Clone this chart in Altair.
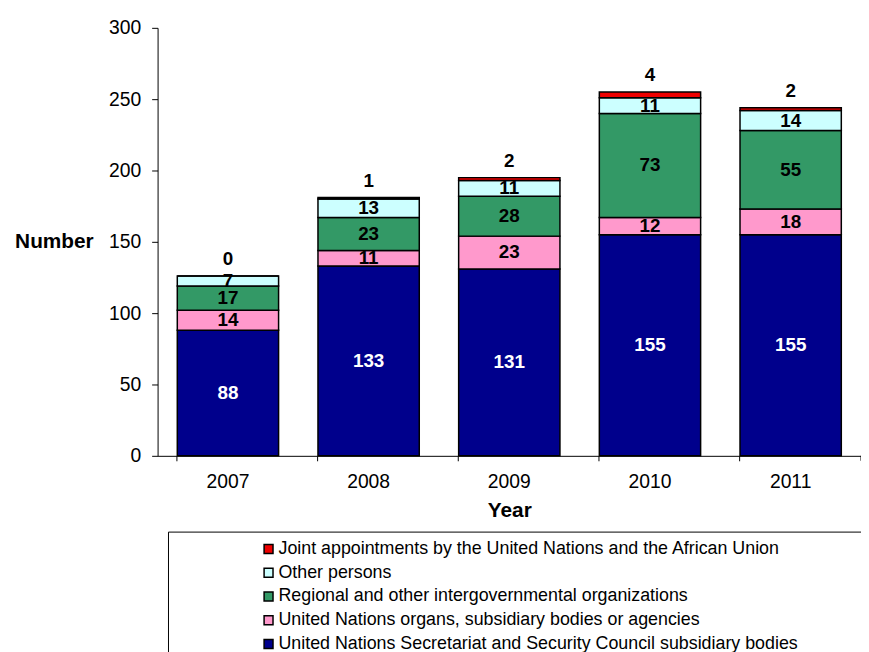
import altair as alt
import pandas as pd

years = ["2007", "2008", "2009", "2010", "2011"]
series = [
    "United Nations Secretariat and Security Council subsidiary bodies",
    "United Nations organs, subsidiary bodies or agencies",
    "Regional and other intergovernmental organizations",
    "Other persons",
    "Joint appointments by the United Nations and the African Union",
]
secretariat = [88, 133, 131, 155, 155]
organs = [14, 11, 23, 12, 18]
regional = [17, 23, 28, 73, 55]
other = [7, 13, 11, 11, 14]
joint = [0, 1, 2, 4, 2]
colors = ["#00008C", "#FF99CC", "#339966", "#CCFFFF", "#EE0000"]
text_colors = ["white", "black", "black", "black", "black"]

values_by_series = [secretariat, organs, regional, other, joint]
rows = []
for yi, yr in enumerate(years):
    cum = 0
    total = sum(v[yi] for v in values_by_series)
    for si, s in enumerate(series):
        v = values_by_series[si][yi]
        rows.append({"year": yr, "series": s, "value": v, "rank": si,
                     "mid": cum + v / 2, "total": total, "tc": text_colors[si],
                     "label": str(v)})
        cum += v
df = pd.DataFrame(rows)

FONT = "Liberation Sans"

base = alt.Chart(df)

xenc = alt.X("year:N", title="Year",
             scale=alt.Scale(paddingInner=0.28, paddingOuter=0.14),
             axis=alt.Axis(bandPosition=0, labelAngle=0, labelFontSize=19.5,
                           labelColor="black", tickSize=5, tickColor="black",
                           domainColor="black", labelPadding=12, grid=False,
                           titleFontSize=21, titleFontWeight="bold",
                           titleColor="black", titleY=61,
                           titleBaseline="alphabetic"))

bars = base.mark_bar(stroke="black", strokeWidth=1.5).encode(
    x=xenc,
    y=alt.Y("value:Q", stack="zero", title="Number",
            scale=alt.Scale(domain=[0, 300], nice=False),
            axis=alt.Axis(values=[0, 50, 100, 150, 200, 250, 300],
                          labelFontSize=19.5, labelColor="black", tickSize=6,
                          tickColor="black", domainColor="black",
                          labelPadding=11, grid=False, titleAngle=0,
                          titleFontSize=21, titleFontWeight="bold",
                          titleColor="black", titleX=-65, titleY=222,
                          titleAlign="right", titleBaseline="alphabetic")),
    color=alt.Color("series:N",
                    scale=alt.Scale(domain=series, range=colors),
                    legend=alt.Legend(title=None, orient="none",
                                      legendX=103, legendY=517,
                                      values=series[::-1],
                                      labelFontSize=18, labelColor="black",
                                      labelLimit=900, symbolType="square",
                                      symbolSize=81, symbolStrokeColor="black",
                                      symbolStrokeWidth=1.5, rowPadding=6,
                                      labelOffset=1, padding=0)),
    order=alt.Order("rank:Q", sort="ascending"),
)

inner = base.transform_filter(alt.datum.rank < 4).mark_text(
    fontSize=19, fontWeight="bold", baseline="middle").encode(
    x=alt.X("year:N"),
    y=alt.Y("mid:Q"),
    text="label:N",
    color=alt.Color("tc:N", scale=None),
)

top = base.transform_filter(alt.datum.rank == 4).mark_text(
    fontSize=19, fontWeight="bold", baseline="middle", dy=-17,
    color="black").encode(
    x=alt.X("year:N"),
    y=alt.Y("total:Q"),
    text="label:N",
)

one = pd.DataFrame({"a": [0]})
end_tick = alt.Chart(one).mark_rule(color="black").encode(
    x=alt.value(710), y=alt.value(432), y2=alt.value(437))
frame_top = alt.Chart(one).mark_rule(color="black", strokeWidth=1).encode(
    x=alt.value(11), x2=alt.value(720), y=alt.value(509))
frame_left = alt.Chart(one).mark_rule(color="black", strokeWidth=1).encode(
    x=alt.value(11), y=alt.value(509), y2=alt.value(660))

chart = alt.layer(bars, inner, top, end_tick, frame_top, frame_left).properties(
    width=710, height=432,
    autosize=alt.AutoSizeParams(type="none"),
    padding={"left": 151, "top": 17, "right": 0, "bottom": 195},
).configure(font=FONT).configure_view(stroke=None)

chart.save("out.html", embed_options={"renderer": "svg", "actions": False})
